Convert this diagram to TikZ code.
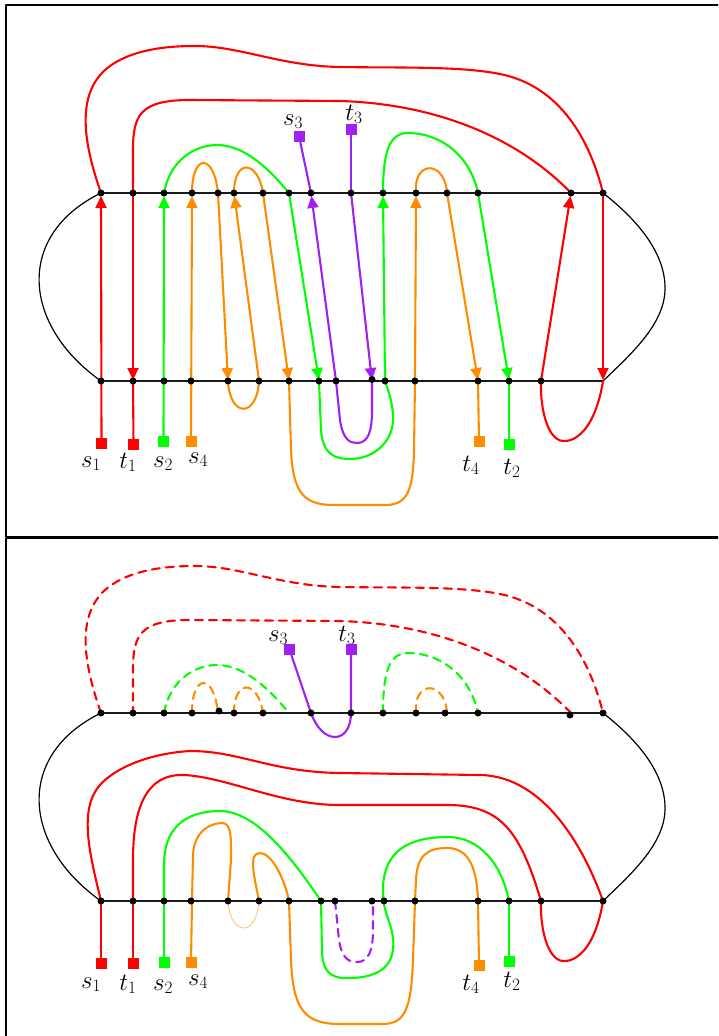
\documentclass[tikz,border=0pt]{standalone}
\usetikzlibrary{arrows.meta}
\definecolor{pred}{RGB}{255,0,0}
\definecolor{pgreen}{RGB}{0,255,0}
\definecolor{porange}{RGB}{255,140,0}
\definecolor{plight}{RGB}{255,195,130}
\definecolor{ppurple}{RGB}{160,32,240}
\begin{document}
\begin{tikzpicture}[x=1pt,y=-1pt,line cap=round,line join=round,
  frame/.style={draw=black,line width=1.3pt},
  hline/.style={draw=black!90,line width=1.8pt},
  side/.style={draw=black,line width=1.2pt},
  wire/.style={line width=2.1pt},
  rw/.style={wire,draw=pred},
  gw/.style={wire,draw=pgreen},
  ow/.style={wire,draw=porange},
  uw/.style={wire,draw=ppurple},
  thinw/.style={line width=0.9pt,draw=plight},
  dsh/.style={dash pattern=on 8pt off 6pt},
  upar/.style={-{Triangle[length=12pt,width=11pt]},shorten >=3pt},
  dnar/.style={-{Triangle[length=12pt,width=11pt]},shorten >=1pt},
  termsq/.style={rectangle,inner sep=0pt,minimum size=11pt,fill=#1},
  termlab/.style={font=\fontsize{24}{28}\selectfont,anchor=base,inner sep=0pt},
  crossdot/.style={circle,fill=black,inner sep=0pt,minimum size=7pt}
]
\useasboundingbox (0,0) rectangle (718,1036);
\clip (0,0) rectangle (718,1036);

% curves shared by both panels
\def\sideL{(101,193) .. controls (15,235) and (22,325) .. (101,381)}
\def\sideR{(603,193) .. controls (640,222) and (666,255) .. (665,290) .. controls (664,325) and (630,355) .. (603,381)}
\def\redOuter{(101,193) .. controls (86,150) and (74,98) .. (105,70) .. controls (130,48) and (172,46) .. (195,46)
  .. controls (240,46) and (280,66) .. (340,67) .. controls (400,68) and (460,66) .. (500,74)
  .. controls (560,86) and (590,140) .. (603,193)}
\def\redInner{(571,193) .. controls (520,140) and (440,104) .. (340,101) -- (190,100)
  .. controls (140,100) and (133,115) .. (133,150) -- (133,193)}
\def\redLoop{(603,381) .. controls (595,430) and (575,442) .. (563,441) .. controls (548,440) and (540,410) .. (541,381)}
\def\greenArcA{(164,193) .. controls (170,160) and (195,145) .. (217,145) .. controls (245,145) and (270,170) .. (289,193)}
\def\greenArcB{(383,193) .. controls (383,150) and (390,133) .. (408,133) .. controls (440,133) and (470,155) .. (478,193)}
\def\orangeArcA{(192,193) .. controls (192,153) and (214,153) .. (218,193)}
\def\orangeArcB{(234,193) .. controls (234,158) and (258,160) .. (263,193)}
\def\orangeArcC{(416,193) .. controls (413,160) and (445,160) .. (447,193)}

% panel frames
\draw[frame] (6,5) rectangle (740,537);
\draw[frame] (6,538.5) rectangle (740,1060);

% ================= upper panel =================
\begin{scope}
\draw[hline] (101,193) -- (603,193);
\draw[hline] (101,381) -- (603,381);
\draw[side] \sideL;
\draw[side] \sideR;

% terminals
\node[termsq=pred]    (s1) at (101.5,443) {};
\node[termsq=pred]    (t1) at (133.5,444) {};
\node[termsq=pgreen]  (s2) at (163.5,441) {};
\node[termsq=porange] (s4) at (191,441) {};
\node[termsq=porange] (t4) at (479,441) {};
\node[termsq=pgreen]  (t2) at (509,444) {};
\node[termsq=ppurple] (s3) at (299,136) {};
\node[termsq=ppurple] (t3) at (351,129) {};
\node[termlab] (ls1) at (91,467) {$s_1$};
\node[termlab] (lt1) at (128,468) {$t_1$};
\node[termlab] (ls2) at (163,467) {$s_2$};
\node[termlab] (ls4) at (198,463) {$s_4$};
\node[termlab] (lt4) at (471,471) {$t_4$};
\node[termlab] (lt2) at (512,474) {$t_2$};
\node[termlab] (ls3) at (293,125) {$s_3$};
\node[termlab] (lt3) at (354,120) {$t_3$};

% red route
\draw[rw,upar] (s1.center) -- (101,193);
\draw[rw] \redOuter;
\draw[rw,dnar] (603,193) -- (603,381);
\draw[rw] \redLoop;
\draw[rw,upar] (541,381) -- (571,193);
\draw[rw] \redInner;
\draw[rw,dnar] (133,193) -- (133,381);
\draw[rw] (133,381) -- (t1.center);

% green route
\draw[gw,upar] (s2.center) -- (164,193);
\draw[gw] \greenArcA;
\draw[gw,dnar] (289,193) -- (319,381);
\draw[gw] (319,381) -- (321,430) .. controls (323,455) and (335,459) .. (350,459)
  .. controls (375,459) and (395,440) .. (393,415) .. controls (392,400) and (388,390) .. (385,381);
\draw[gw,upar] (385,381) -- (383,193);
\draw[gw] \greenArcB;
\draw[gw,dnar] (478,193) -- (509,381);
\draw[gw] (509,381) -- (t2.center);

% orange route
\draw[ow,upar] (s4.center) -- (192,193);
\draw[ow] \orangeArcA;
\draw[ow,dnar] (218,193) -- (228,381);
\draw[ow] (228,381) .. controls (230,418) and (257,418) .. (259,381);
\draw[ow,upar] (259,381) -- (234,193);
\draw[ow] \orangeArcB;
\draw[ow,dnar] (263,193) -- (289,381);
\draw[ow] (289,381) -- (291,450) .. controls (293,495) and (305,505) .. (335,505) -- (385,505)
  .. controls (408,505) and (413,490) .. (414,450) -- (415,381);
\draw[ow,upar] (415,381) -- (416,193);
\draw[ow] \orangeArcC;
\draw[ow,dnar] (447,193) -- (478,381);
\draw[ow] (478,381) -- (t4.center);

% purple route
\draw[uw] (s3.center) -- (311,193);
\draw[uw,upar] (336,381) -- (311,193);
\draw[uw] (336,381) -- (340,420) .. controls (343,440) and (350,443) .. (357,443)
  .. controls (368,443) and (372,432) .. (372,410) -- (372,381);
\draw[uw,dnar] (351,193) -- (372,381);
\draw[uw] (t3.center) -- (351,193);

% crossing points
\foreach \x in {101,133,164,192,218,234,263,289,311,351,383,416,447,478,571,603}
  \node[crossdot] at (\x,193) {};
\foreach \x in {101,133,164,191,228,259,289,319,336,385,415,478,509,541}
  \node[crossdot] at (\x,381) {};
\node[crossdot] at (372,379.5) {};
\end{scope}

% ================= lower panel =================
\begin{scope}[shift={(0,520)}]
\draw[hline] (101,193) -- (603,193);
\draw[hline] (101,381) -- (603,381);
\draw[side] \sideL;
\draw[side] \sideR;

\node[termsq=pred]    (bs1) at (101,443.5) {};
\node[termsq=pred]    (bt1) at (133,443) {};
\node[termsq=pgreen]  (bs2) at (164,442) {};
\node[termsq=porange] (bs4) at (191,442) {};
\node[termsq=porange] (bt4) at (479,445) {};
\node[termsq=pgreen]  (bt2) at (509,441) {};
\node[termsq=ppurple] (bs3) at (289.5,129.5) {};
\node[termsq=ppurple] (bt3) at (351,129.5) {};
\node[termlab] (bls1) at (91,468) {$s_1$};
\node[termlab] (blt1) at (128,470) {$t_1$};
\node[termlab] (bls2) at (163,470) {$s_2$};
\node[termlab] (bls4) at (198,465) {$s_4$};
\node[termlab] (blt4) at (471,470) {$t_4$};
\node[termlab] (blt2) at (512,467) {$t_2$};
\node[termlab] (bls3) at (278,121) {$s_3$};
\node[termlab] (blt3) at (347,121) {$t_3$};

% dashed parts above the upper line
\draw[rw,dsh] \redOuter;
\draw[rw,dsh] \redInner;
\draw[gw,dsh] \greenArcA;
\draw[gw,dsh] \greenArcB;
\draw[ow,dsh] \orangeArcA;
\draw[ow,dsh] \orangeArcB;
\draw[ow,dsh] \orangeArcC;

% purple route
\draw[uw] (bs3.center) -- (311,193) .. controls (316,207) and (325,217) .. (335,217)
  .. controls (346,217) and (351,205) .. (351,193) -- (bt3.center);
\draw[uw,dsh] (335,381) -- (339,420) .. controls (342,440) and (350,442) .. (357,442)
  .. controls (368,442) and (373,432) .. (373,410) -- (373,381);

% red route
\draw[rw] (bs1.center) -- (101,381);
\draw[rw] (101,381) .. controls (90,335) and (78,290) .. (100,265) .. controls (118,245) and (155,233) .. (190,231)
  .. controls (240,231) and (270,252) .. (340,253) -- (480,255)
  .. controls (545,256) and (585,330) .. (603,381);
\draw[rw] \redLoop;
\draw[rw] (541,381) .. controls (520,310) and (500,286) .. (450,285) -- (340,285)
  .. controls (280,285) and (230,258) .. (185,255) .. controls (145,253) and (133,290) .. (133,340) -- (133,381);
\draw[rw] (133,381) -- (bt1.center);

% green route
\draw[gw] (bs2.center) -- (164,381);
\draw[gw] (164,381) -- (164,345) .. controls (164,300) and (195,291) .. (220,291)
  .. controls (255,291) and (290,335) .. (321,381);
\draw[gw] (321,381) -- (322,432) .. controls (323,456) and (335,459) .. (352,458)
  .. controls (380,457) and (396,445) .. (393,418) .. controls (391,400) and (383,395) .. (383,370)
  .. controls (383,330) and (410,317) .. (448,317) .. controls (480,317) and (502,345) .. (509,381);
\draw[gw] (509,381) -- (bt2.center);

% orange route
\draw[ow] (bs4.center) -- (192,381);
\draw[ow] (192,381) -- (193,335) .. controls (194,310) and (212,303) .. (222,303)
  .. controls (232,303) and (231,320) .. (231,340) -- (228,381);
\draw[thinw] (228,381) .. controls (230,417) and (257,417) .. (259,381);
\draw[ow] (259,381) .. controls (254,355) and (248,333) .. (260,333) .. controls (272,333) and (285,360) .. (289,381);
\draw[ow] (289,381) -- (291,440) .. controls (293,490) and (305,504) .. (340,504) -- (382,504)
  .. controls (405,504) and (411,490) .. (413,440) -- (415,381);
\draw[ow] (415,381) -- (416,360) .. controls (417,335) and (428,328) .. (447,328)
  .. controls (470,328) and (477,350) .. (478,381);
\draw[ow] (478,381) -- (bt4.center);

% crossing points
\foreach \x in {101,133,164,192,234,263,311,351,383,416,445,478,603}
  \node[crossdot] at (\x,193) {};
\node[crossdot] at (219,191) {};
\node[crossdot] at (570,195) {};
\foreach \x in {101,133,164,191,228,259,289,321,335,372,384,415,478,509,541,603}
  \node[crossdot] at (\x,381) {};
\end{scope}
\end{tikzpicture}
\end{document}
